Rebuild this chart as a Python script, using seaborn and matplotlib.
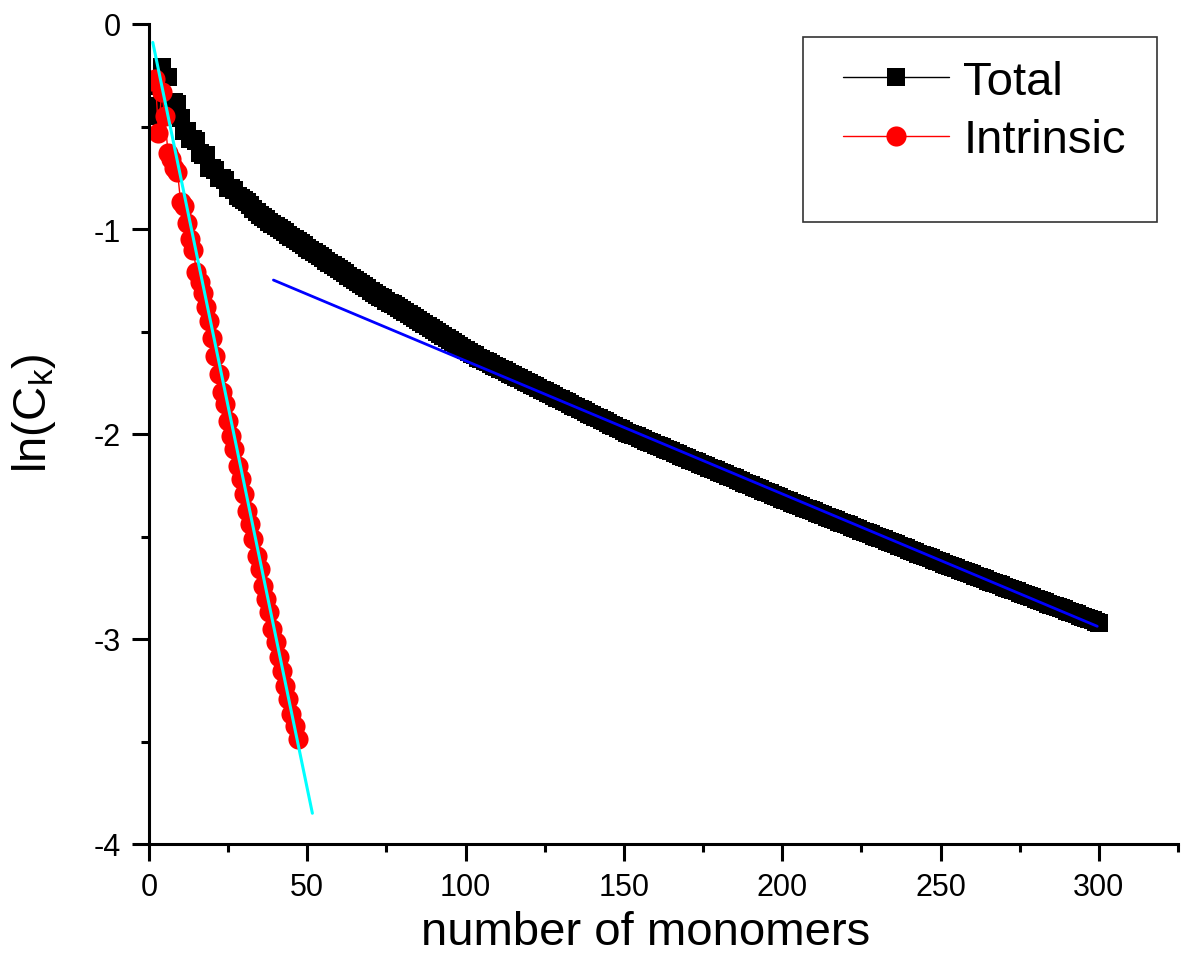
import numpy as np
import pandas as pd
import matplotlib
matplotlib.use("Agg")
import matplotlib.pyplot as plt
from matplotlib.patches import Rectangle
import seaborn as sns

# =========================
# data
# =========================
total_k = np.arange(1, 301)
total_ln = [
    -0.45, -0.30, -0.40, -0.21, -0.26, -0.26, -0.38, -0.38, -0.39, -0.46,
    -0.52, -0.52, -0.56, -0.56, -0.57, -0.63, -0.64, -0.64, -0.70, -0.70,
    -0.71, -0.75, -0.75, -0.76, -0.80, -0.80, -0.81, -0.84, -0.85, -0.86,
    -0.87, -0.885, -0.90, -0.915, -0.93, -0.94, -0.95, -0.965, -0.975, -0.986,
    -0.996, -1.007, -1.017, -1.028, -1.038, -1.049, -1.059, -1.070, -1.080, -1.091,
    -1.101, -1.112, -1.122, -1.133, -1.143, -1.154, -1.164, -1.175, -1.185, -1.196,
    -1.206, -1.217, -1.227, -1.238, -1.248, -1.259, -1.269, -1.280, -1.290, -1.301,
    -1.311, -1.320, -1.330, -1.339, -1.349, -1.359, -1.368, -1.378, -1.387, -1.397,
    -1.407, -1.416, -1.426, -1.435, -1.445, -1.455, -1.464, -1.474, -1.483, -1.493,
    -1.503, -1.512, -1.522, -1.531, -1.541, -1.551, -1.560, -1.570, -1.579, -1.589,
    -1.598, -1.608, -1.617, -1.627, -1.635, -1.643, -1.650, -1.658, -1.666, -1.674,
    -1.682, -1.689, -1.697, -1.705, -1.713, -1.721, -1.728, -1.736, -1.744, -1.752,
    -1.760, -1.767, -1.775, -1.783, -1.791, -1.799, -1.806, -1.814, -1.822, -1.830,
    -1.838, -1.845, -1.853, -1.861, -1.869, -1.877, -1.884, -1.892, -1.900, -1.908,
    -1.916, -1.923, -1.931, -1.939, -1.947, -1.955, -1.962, -1.970, -1.978, -1.986,
    -1.993, -1.999, -2.006, -2.012, -2.019, -2.026, -2.032, -2.039, -2.045, -2.052,
    -2.059, -2.065, -2.072, -2.078, -2.085, -2.092, -2.098, -2.105, -2.111, -2.118,
    -2.125, -2.131, -2.138, -2.144, -2.151, -2.158, -2.164, -2.171, -2.177, -2.184,
    -2.191, -2.197, -2.204, -2.210, -2.217, -2.224, -2.230, -2.237, -2.243, -2.250,
    -2.257, -2.263, -2.270, -2.276, -2.283, -2.290, -2.296, -2.303, -2.309, -2.316,
    -2.322, -2.328, -2.335, -2.341, -2.347, -2.353, -2.359, -2.366, -2.372, -2.378,
    -2.384, -2.390, -2.397, -2.403, -2.409, -2.415, -2.421, -2.428, -2.434, -2.440,
    -2.446, -2.452, -2.459, -2.465, -2.471, -2.477, -2.483, -2.490, -2.496, -2.502,
    -2.508, -2.514, -2.521, -2.527, -2.533, -2.539, -2.545, -2.552, -2.558, -2.564,
    -2.570, -2.576, -2.583, -2.589, -2.595, -2.601, -2.607, -2.614, -2.620, -2.626,
    -2.632, -2.638, -2.644, -2.650, -2.656, -2.661, -2.667, -2.673, -2.679, -2.685,
    -2.691, -2.697, -2.703, -2.709, -2.715, -2.720, -2.726, -2.732, -2.738, -2.744,
    -2.750, -2.756, -2.762, -2.768, -2.774, -2.779, -2.785, -2.791, -2.797, -2.803,
    -2.809, -2.815, -2.821, -2.827, -2.833, -2.838, -2.844, -2.850, -2.856, -2.862,
    -2.868, -2.874, -2.880, -2.886, -2.892, -2.897, -2.903, -2.909, -2.915, -2.921,
]

intr_k = np.arange(1, 48)
intr_ln = [
    -0.28, -0.27, -0.53, -0.33, -0.45, -0.63, -0.66, -0.70, -0.72, -0.87,
    -0.89, -0.97, -1.05, -1.10, -1.21, -1.26, -1.31, -1.38, -1.45, -1.53,
    -1.62, -1.707, -1.795, -1.854, -1.937, -2.010, -2.073, -2.156, -2.220, -2.293,
    -2.376, -2.439, -2.512, -2.595, -2.659, -2.741, -2.805, -2.868, -2.951, -3.015,
    -3.088, -3.156, -3.229, -3.293, -3.366, -3.424, -3.488,
]

# linear fits (end points)
fit_intr_k = [1.2, 51.6]
fit_intr_ln = [-0.09, -3.85]
fit_total_k = [39.3, 299.5]
fit_total_ln = [-1.249, -2.938]

df_total = pd.DataFrame({"k": total_k, "lnC": total_ln})
df_intr = pd.DataFrame({"k": intr_k, "lnC": intr_ln})

# =========================
# style
# =========================
sns.set_style("ticks", {"axes.edgecolor": "black", "text.color": "black",
                        "xtick.color": "black", "ytick.color": "black",
                        "axes.labelcolor": "black"})
plt.rcParams['font.family'] = ['Liberation Sans', 'DejaVu Sans']
plt.rcParams['mathtext.default'] = 'regular'

fig = plt.figure(figsize=(11.88, 9.62), dpi=100)
ax = fig.add_axes([149 / 1188, 1 - 845 / 962, 1029 / 1188, 820 / 962])

sns.lineplot(data=df_total, x="k", y="lnC", ax=ax, color="black", linewidth=1,
             marker="s", markersize=12.5, markeredgewidth=0, label="Total")
sns.lineplot(data=df_intr, x="k", y="lnC", ax=ax, color="red", linewidth=1,
             marker="o", markersize=14.5, markeredgewidth=0, label="Intrinsic")
sns.lineplot(x=fit_intr_k, y=fit_intr_ln, ax=ax, color="cyan", linewidth=2.2)
sns.lineplot(x=fit_total_k, y=fit_total_ln, ax=ax, color="blue", linewidth=2.0)

ax.set_xlim(0, 325)
ax.set_ylim(-4, 0)
ax.set_xticks([0, 50, 100, 150, 200, 250, 300])
ax.set_xticks(np.arange(25, 326, 50), minor=True)
ax.set_yticks([0, -1, -2, -3, -4])
ax.set_yticklabels(["0", "-1", "-2", "-3", "-4"])
ax.set_yticks([-0.5, -1.5, -2.5, -3.5], minor=True)

for side in ["top", "right"]:
    ax.spines[side].set_visible(False)
for side in ["left", "bottom"]:
    ax.spines[side].set_linewidth(2.2)
ax.tick_params(which="major", direction="out", length=12, width=2.2,
               labelsize=22, pad=8, colors="black")
ax.tick_params(which="minor", direction="out", length=6, width=2.2, colors="black")

ax.set_xlabel("number of monomers", fontsize=34)
ax.set_ylabel(r"ln(C$_{k}$)", fontsize=34)
ax.xaxis.set_label_coords(0.4825, -0.08)
ax.yaxis.set_label_coords(-0.088, 0.527)

# legend with a taller frame drawn separately
handles, labels = ax.get_legend_handles_labels()
ax.legend(handles[:2], labels[:2], loc="upper left",
          bbox_to_anchor=(843 / 1188, 1 - 61 / 962), bbox_transform=fig.transFigure,
          frameon=False, fontsize=34, handlelength=2.25, handletextpad=0.3,
          borderpad=0, borderaxespad=0, labelspacing=0.3, markerscale=1.0)
fig.patches.append(Rectangle((803 / 1188, 1 - 223 / 962), 354 / 1188, 185 / 962,
                             transform=fig.transFigure, fill=False,
                             edgecolor="#333333", linewidth=1.2))

plt.savefig("out.png", dpi=100)
